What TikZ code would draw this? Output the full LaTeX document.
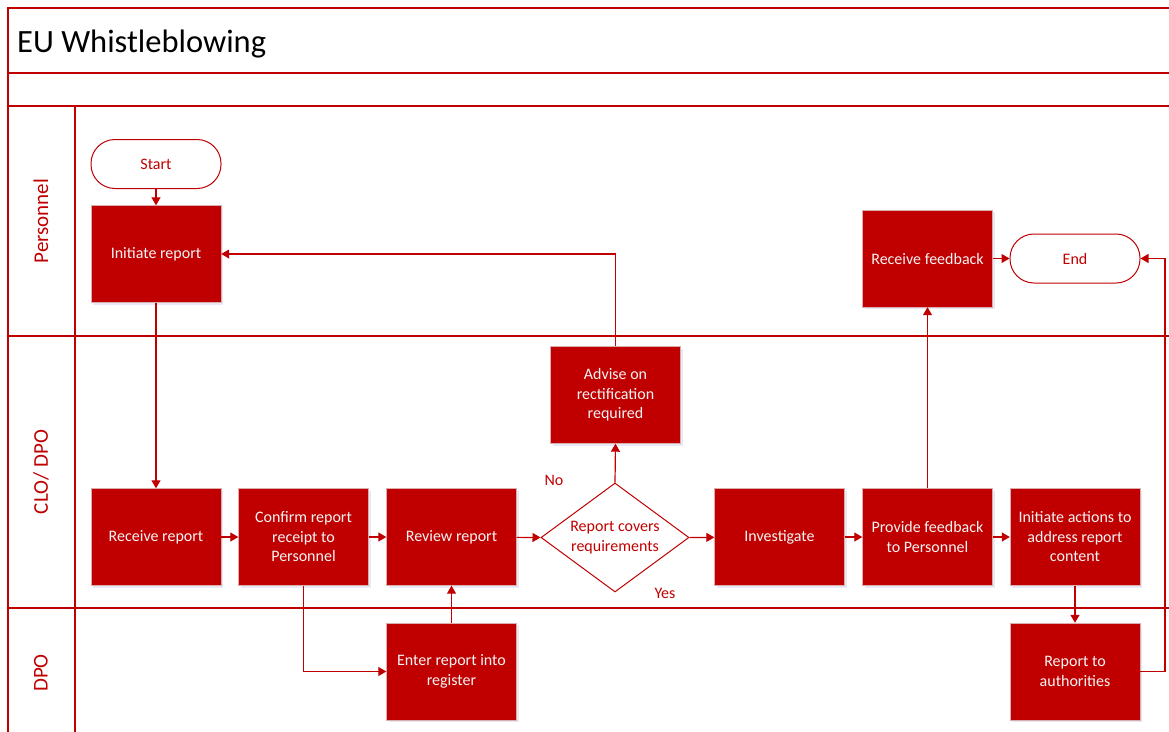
\documentclass[tikz,border=0pt]{standalone}
\usepackage{fontspec}
\setmainfont{Carlito}
\usetikzlibrary{arrows.meta,shapes.geometric,shadows}
\definecolor{ered}{HTML}{C00000}
\definecolor{etext}{HTML}{F4F4F4}
\begin{document}
\begin{tikzpicture}[x=1pt,y=-1pt,
  frame/.style={draw=ered,line width=1.4pt},
  proc/.style={fill=ered,draw=ered!60!gray!40,line width=0.4pt,minimum width=130pt,minimum height=97pt,
    inner sep=0pt,align=center,text=etext,font=\fontsize{16}{19.5}\selectfont,
    drop shadow={opacity=0.12,shadow xshift=2pt,shadow yshift=-2pt,fill=blue!40!gray}},
  term/.style={draw=ered,line width=1pt,fill=white,rounded corners=24pt,minimum width=130pt,minimum height=49pt,
    inner sep=0pt,text=ered,font=\fontsize{16}{19.5}\selectfont},
  lane/.style={text=ered,font=\fontsize{21}{24}\selectfont,rotate=90},
  lbl/.style={text=ered,font=\fontsize{16}{19.5}\selectfont},
  arr/.style={draw=ered,line width=1.2pt,-{Triangle[length=8pt,width=9pt]}},
  ln/.style={draw=ered,line width=1.2pt}]
\useasboundingbox (0,0) rectangle (1169,731);
\fill[white] (0,0) rectangle (1169,731);
% frame
\draw[frame] (1175,8) -- (8,8) -- (8,735);
\draw[frame] (8,73) -- (1175,73);
\draw[frame] (8,106) -- (1175,106);
\draw[frame] (75,106) -- (75,735);
\draw[frame] (8,336) -- (1175,336);
\draw[frame] (8,608) -- (1175,608);
\node[anchor=base west,font=\fontsize{32.5}{36}\selectfont,inner sep=0pt] (title) at (17,52) {EU Whistleblowing};
% lane labels
\node[lane] (lp) at (41,221) {Personnel};
\node[lane] (lc) at (41,472) {CLO/ DPO};
\node[lane] (ld) at (41,673) {DPO};
% nodes
\node[term] (start) at (156,164) {Start};
\node[proc] (init) at (156,254) {Initiate report};
\node[proc] (rfb) at (927.5,258.5) {Receive feedback};
\node[term] (end) at (1075,258.5) {End};
\node[proc] (adv) at (615.5,395) {Advise on\\rectification\\required};
\node[proc] (recv) at (156,537) {Receive report};
\node[proc] (conf) at (303.5,537) {Confirm report\\receipt to\\Personnel};
\node[proc] (rev) at (451.5,537) {Review report};
\node[diamond,draw=ered,line width=1pt,fill=white,minimum width=148pt,minimum height=109pt,inner sep=0pt] (dia) at (615,537.5) {};
\node[lbl,align=center] (diat) at (dia.center) {Report covers\\requirements};
\node[proc] (inv) at (779.5,537) {Investigate};
\node[proc] (pfb) at (927.5,537) {Provide feedback\\to Personnel};
\node[proc] (act) at (1075,537) {Initiate actions to\\address report\\content};
\node[proc] (ent) at (451.5,671.5) {Enter report into\\register};
\node[proc] (rta) at (1075,671.5) {Report to\\authorities};
\node[lbl] (no) at (554,480) {No};
\node[lbl] (yes) at (665,593) {Yes};
% connectors
\draw[arr] (start) -- (init);
\draw[arr] (init) -- (recv);
\draw[arr] (recv) -- (conf);
\draw[arr] (conf) -- (rev);
\draw[arr] (rev) -- (dia.west);
\draw[arr] (dia.east) -- (inv);
\draw[arr] (inv) -- (pfb);
\draw[arr] (pfb) -- (act);
\draw[arr] (conf.south) |- (ent.west);
\draw[arr] (ent) -- (rev);
\draw[arr] (dia.north) -- (adv.south);
\draw[arr] (adv.north) |- (init.east);
\draw[arr] (pfb) -- (rfb);
\draw[arr] (rfb) -- (end);
\draw[arr] (act) -- (rta);
\coordinate (rr) at (1165,671.5);
\draw[arr] (rta.east) -- (rr) |- (end.east);
\end{tikzpicture}
\end{document}
